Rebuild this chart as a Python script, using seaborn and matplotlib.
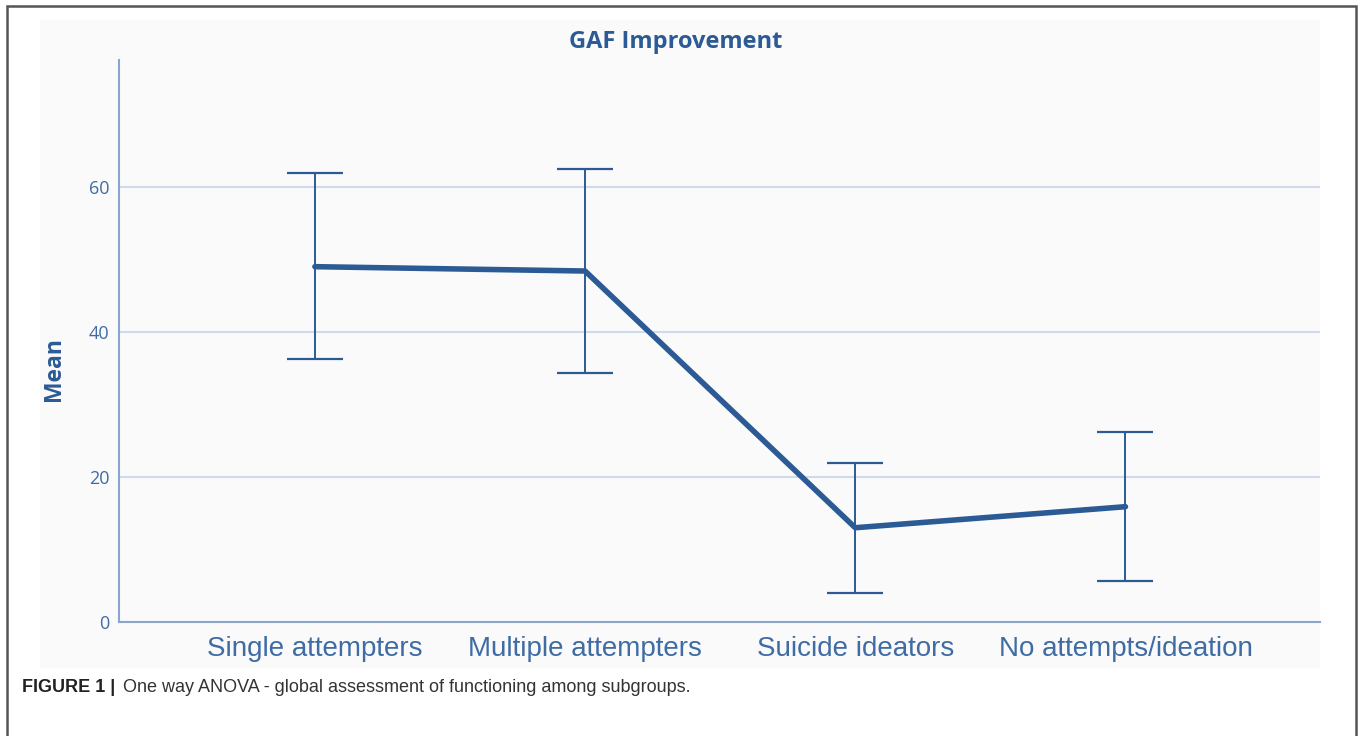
import matplotlib
matplotlib.use('Agg')
import matplotlib.pyplot as plt
import seaborn as sns
import pandas as pd
from matplotlib.patches import Rectangle

# Group means and interval bounds
groups = ['Single attempters', 'Multiple attempters', 'Suicide ideators', 'No attempts/ideation']
means = [49.0, 48.4, 13.0, 15.9]
upper = [61.9, 62.5, 21.9, 26.2]
lower = [36.3, 34.3, 4.0, 5.7]
y_ticks = [0, 20, 40, 60]

df = pd.DataFrame({'group': groups, 'mean': means, 'upper': upper, 'lower': lower})
df['pos'] = range(len(df))

line_col = '#2b5a95'
tick_col = '#3f6ca5'
axis_col = '#8aa6cb'
grid_col = '#cfdbea'

sns.set_style('white')
plt.rcParams['font.family'] = ['Open Sans', 'DejaVu Sans']

fig = plt.figure(figsize=(13.6, 7.36), dpi=100)

# light panel behind chart and outer frame
fig.patches.append(Rectangle((40 / 1360, 1 - 668 / 736), 1280 / 1360, 648 / 736,
                             transform=fig.transFigure, facecolor='#fafafb',
                             edgecolor='none', zorder=-5))
fig.patches.append(Rectangle((7 / 1360, -0.05), 1349 / 1360, 1 - 6 / 736 + 0.05,
                             transform=fig.transFigure, facecolor='none',
                             edgecolor='#555555', linewidth=1.8, zorder=5))

ax = fig.add_axes([119 / 1360, 1 - 622 / 736, 1201 / 1360, 562 / 736])
ax.set_facecolor('none')

# error bars
ax.errorbar(df['pos'], df['mean'],
            yerr=[df['mean'] - df['lower'], df['upper'] - df['mean']],
            fmt='none', ecolor=line_col, elinewidth=1.4, capsize=20.5,
            capthick=1.6, zorder=2)

sns.lineplot(data=df, x='pos', y='mean', color=line_col, linewidth=4,
             ax=ax, zorder=3)

ax.set_xlim(-0.725, 3.72)
ax.set_ylim(0, 77.5)
ax.set_yticks(y_ticks)
ax.set_xticks(df['pos'])
ax.set_xticklabels(groups, family=['Liberation Sans', 'DejaVu Sans'],
                   fontsize=20, color=tick_col)
ax.tick_params(axis='x', length=0, pad=10)
ax.tick_params(axis='y', length=0, pad=7, labelsize=13, labelcolor=tick_col)
ax.grid(axis='y', color=grid_col, linewidth=1.5)
ax.set_axisbelow(True)

for side in ['top', 'right']:
    ax.spines[side].set_visible(False)
for side in ['left', 'bottom']:
    ax.spines[side].set_color(axis_col)
    ax.spines[side].set_linewidth(1.5)

ax.set_xlabel('')
ax.set_ylabel('Mean', fontsize=16.5, fontweight='bold', color=line_col)
ax.yaxis.set_label_coords(-0.044, 0.45)
fig.text(676 / 1360, 1 - 42 / 736, 'GAF Improvement', ha='center', va='center',
         fontsize=17, fontweight='bold', color=line_col)

# caption
fig.text(22 / 1360, 1 - 688 / 736, 'FIGURE 1 |', ha='left', va='center',
         family=['Liberation Sans', 'DejaVu Sans'], fontsize=13,
         fontweight='bold', color='#222222')
fig.text(123 / 1360, 1 - 688 / 736,
         'One way ANOVA - global assessment of functioning among subgroups.',
         ha='left', va='center', family=['Liberation Sans', 'DejaVu Sans'],
         fontsize=13, color='#333333')

fig.savefig('out.png', dpi=100)
